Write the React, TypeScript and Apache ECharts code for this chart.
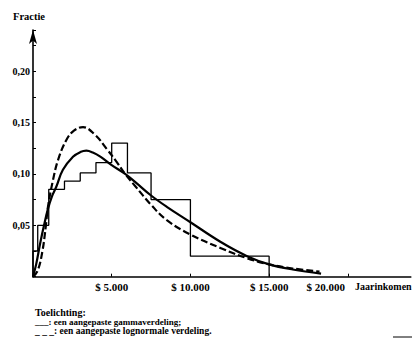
import React, { useEffect, useRef } from 'react';
import * as echarts from 'echarts';

// Histogram (step outline): bin edges in dollars and fraction per bin
const binEdges = [0, 300, 1000, 2000, 3000, 4000, 5000, 6000, 7500, 10000, 15000];
const binValues = [0.025, 0.05, 0.085, 0.093, 0.101, 0.111, 0.130, 0.101, 0.075, 0.020];

// Fitted gamma distribution (solid)
const gammaX = [0, 200, 450, 700, 950, 1200, 1480, 1900, 2540, 3000, 3390, 3800, 4300, 4950, 5850, 6500, 7500, 8500, 10000, 11900, 13600, 15000, 16500, 18300];
const gammaY = [0, 0.012, 0.032, 0.05, 0.066, 0.078, 0.0875, 0.104, 0.1167, 0.1212, 0.1226, 0.1208, 0.1165, 0.109, 0.100, 0.092, 0.079, 0.068, 0.053, 0.034, 0.020, 0.012, 0.007, 0.003];

// Fitted lognormal distribution (dashed)
const lognormX = [0, 300, 600, 820, 950, 1270, 1590, 2120, 2600, 3180, 3940, 4700, 5300, 5850, 6500, 7500, 8500, 10000, 11900, 13600, 15000, 16500, 18200];
const lognormY = [0, 0.006, 0.025, 0.05, 0.068, 0.094, 0.1135, 0.133, 0.142, 0.1455, 0.138, 0.124, 0.112, 0.100, 0.088, 0.070, 0.055, 0.041, 0.028, 0.018, 0.012, 0.008, 0.005];

const xTickValues = [5000, 10000, 15000, 20000];
const xTickLabels = ['$ 5.000', '$ 10.000', '$ 15.000', '$ 20.000'];
const yTickValues = [0.05, 0.1, 0.15, 0.2];
const yTickLabels = ['0,05', '0,10', '0,15', '0,20'];

const xAxisTitle = 'Jaarinkomen';
const yAxisTitle = 'Fractie';
const legendTitle = 'Toelichting:';
const legendLines = ['___: een aangepaste gammaverdeling;', '_ _ _: een aangepaste lognormale verdeling.'];

const FONT = "'Liberation Serif', 'Times New Roman', serif";

function buildHistogram(): [number, number][] {
  const pts: [number, number][] = [[binEdges[0], 0]];
  for (let i = 0; i < binValues.length; i++) {
    pts.push([binEdges[i], binValues[i]]);
    pts.push([binEdges[i + 1], binValues[i]]);
  }
  pts.push([binEdges[binEdges.length - 1], 0]);
  return pts;
}

function zip(xs: number[], ys: number[]): [number, number][] {
  return xs.map((x, i) => [x, ys[i]]);
}

export default function App() {
  const ref = useRef<HTMLDivElement>(null);
  useEffect(() => {
    if (!ref.current) return;
    const chart = echarts.init(ref.current, null, { renderer: 'svg' });
    const lastX = xTickValues[xTickValues.length - 1];
    chart.setOption({
      animation: false,
      backgroundColor: '#fff',
      grid: { left: 33, top: 30, width: 377.8, height: 246.7, containLabel: false },
      xAxis: {
        type: 'value',
        min: 0,
        max: 24000,
        interval: 1000,
        axisLine: { show: true, lineStyle: { color: '#000', width: 1.6 } },
        axisTick: { show: true, inside: true, length: 3, customValues: xTickValues, lineStyle: { color: '#000', width: 1 } },
        splitLine: { show: false },
        axisLabel: {
          margin: 5,
          color: '#000',
          fontFamily: FONT,
          fontWeight: 'bold',
          fontSize: 11,
          customValues: xTickValues,
          formatter: (v: number) => {
            const i = xTickValues.indexOf(v);
            if (i < 0) return '';
            if (v === lastX) return '{s|' + xTickLabels[i] + '}';
            return xTickLabels[i];
          },
          rich: {
            s: { padding: [0, 44, 0, 0], color: '#000', fontFamily: FONT, fontWeight: 'bold', fontSize: 11 },
          },
        },
      },
      yAxis: {
        type: 'value',
        min: 0,
        max: 0.24,
        interval: 0.05,
        name: yAxisTitle,
        nameLocation: 'end',
        nameGap: 8,
        nameTextStyle: { color: '#000', fontFamily: FONT, fontWeight: 'bold', fontSize: 10.5, padding: [0, 8, 0, 0] },
        axisLine: {
          show: true,
          symbol: ['none', 'arrow'],
          symbolSize: [6, 14],
          lineStyle: { color: '#000', width: 1.6 },
        },
        axisTick: { show: true, inside: true, length: 3, lineStyle: { color: '#000', width: 1 } },
        minorTick: { show: true, splitNumber: 2, length: 3, lineStyle: { color: '#000', width: 1 } },
        splitLine: { show: false },
        axisLabel: {
          margin: 3,
          color: '#000',
          fontFamily: FONT,
          fontWeight: 'bold',
          fontSize: 10,
          formatter: (v: number) => {
            const i = yTickValues.findIndex((t) => Math.abs(t - v) < 1e-9);
            return i < 0 ? '' : yTickLabels[i];
          },
        },
      },
      series: [
        {
          type: 'line',
          name: 'histogram',
          data: buildHistogram(),
          showSymbol: false,
          lineStyle: { color: '#000', width: 1.3 },
          z: 2,
        },
        {
          type: 'line',
          name: 'gamma',
          data: zip(gammaX, gammaY),
          smooth: 0.4,
          showSymbol: false,
          lineStyle: { color: '#000', width: 2.2 },
          z: 3,
        },
        {
          type: 'line',
          name: 'lognormaal',
          data: zip(lognormX, lognormY),
          smooth: 0.4,
          showSymbol: false,
          lineStyle: { color: '#000', width: 2.2, type: [7, 3] },
          z: 3,
        },
      ],
      graphic: [
        {
          type: 'text',
          x: 355,
          y: 286,
          style: { text: xAxisTitle, fill: '#000', font: `bold 10px ${FONT}`, verticalAlign: 'middle' },
        },
        {
          type: 'text',
          x: 35,
          y: 312.5,
          style: { text: legendTitle, fill: '#000', font: `bold 10px ${FONT}`, verticalAlign: 'middle' },
        },
        {
          type: 'text',
          x: 35,
          y: 321.5,
          style: { text: legendLines[0], fill: '#000', font: `bold 9px ${FONT}`, verticalAlign: 'middle' },
        },
        {
          type: 'text',
          x: 35,
          y: 331,
          style: { text: legendLines[1], fill: '#000', font: `bold 9.5px ${FONT}`, verticalAlign: 'middle' },
        },
        {
          type: 'line',
          shape: { x1: 393, y1: 337, x2: 412, y2: 337 },
          style: { stroke: '#000', lineWidth: 1 },
        },
      ],
    });
    return () => chart.dispose();
  }, []);
  return (
    <div
      ref={ref}
      style={{ position: 'fixed', left: 0, top: 0, width: 412, height: 341, background: '#fff' }}
    />
  );
}
